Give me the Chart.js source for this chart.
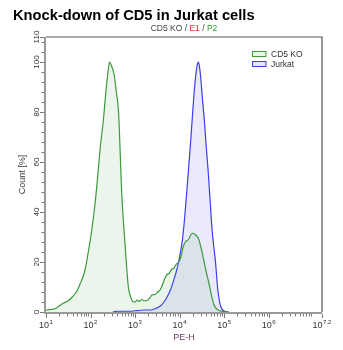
<!DOCTYPE html>
<html>
<head>
<meta charset="utf-8">
<script src="https://cdn.jsdelivr.net/npm/chart.js@4"></script>
<style>
  html, body { margin: 0; padding: 0; background: #fff; }
  canvas { display: block; }
</style>
</head>
<body>
<canvas id="grafico" width="343" height="350"></canvas>
<script>
const koLog = [1.0, 1.1, 1.2, 1.3, 1.4, 1.5, 1.6, 1.7, 1.77, 1.83, 1.88, 1.95, 2.03, 2.1, 2.155, 2.22, 2.29, 2.35, 2.4, 2.426, 2.47, 2.53, 2.58, 2.63, 2.67, 2.7, 2.74, 2.78, 2.82, 2.85, 2.9, 2.95, 3.0, 3.05, 3.1, 3.15, 3.2, 3.27, 3.33, 3.38, 3.45, 3.52, 3.57, 3.62, 3.67, 3.72, 3.77, 3.82, 3.87, 3.92, 3.98, 4.03, 4.08, 4.13, 4.2, 4.26, 4.3, 4.35, 4.42, 4.48, 4.54, 4.6, 4.66, 4.72, 4.77, 4.82, 4.88, 4.95, 5.0, 5.1];
const koCount = [0.8, 1.0, 1.3, 2.5, 3.6, 4.5, 6.2, 8.5, 11.5, 14, 17, 24, 33, 43, 53, 66, 77, 89, 97, 100, 98.5, 95, 88, 80, 62, 48, 36, 26, 16, 10, 6, 4.2, 4.0, 4.8, 4.2, 5.0, 4.5, 4.6, 5.6, 6.8, 7.0, 8.2, 9.0, 11, 13.5, 15, 15.5, 17, 17.5, 19, 20, 22, 26, 28, 29, 31, 31.5, 31, 29.5, 26, 21, 16, 11.5, 6.5, 3.0, 1.5, 0.7, 0.3, 0.1, 0];

const jurLog = [2.5, 2.6, 2.9, 3.0, 3.1, 3.2, 3.34, 3.45, 3.57, 3.65, 3.72, 3.8, 3.87, 3.94, 4.0, 4.05, 4.09, 4.13, 4.17, 4.21, 4.24, 4.28, 4.32, 4.36, 4.4, 4.42, 4.44, 4.48, 4.51, 4.56, 4.6, 4.64, 4.67, 4.7, 4.73, 4.77, 4.81, 4.86, 4.9, 4.93, 4.97, 5.03, 5.1];
const jurCount = [0, 0.3, 0.3, 0.5, 0.6, 0.8, 0.8, 1.3, 2.4, 4, 6, 9, 12.8, 17, 22, 27, 33, 41, 50, 59, 66, 76, 86, 94, 99, 100, 99, 93, 86, 76, 66, 57, 49, 41, 33, 26, 19.5, 8.8, 4, 2, 0.8, 0.2, 0];

const yTicks = [0, 20, 40, 60, 80, 100, 110];
const xTicks = [1, 2, 3, 4, 5, 6, 7.2];
const xExpoentes = ["1", "2", "3", "4", "5", "6", "7.2"];

const FONTE = "'Liberation Sans', Arial, sans-serif";

function pontos(xs, ys) {
  return xs.map((x, i) => ({ x: x, y: ys[i] }));
}

// desenha moldura, marcas, rótulos, legenda e títulos
const eixosPlugin = {
  id: "eixos",
  afterDraw(chart) {
    const ctx = chart.ctx;
    const area = chart.chartArea;
    const sx = chart.scales.x;
    const sy = chart.scales.y;
    ctx.save();

    // moldura
    ctx.strokeStyle = "#555";
    ctx.lineWidth = 1.2;
    ctx.beginPath();
    ctx.moveTo(area.left, area.top);
    ctx.lineTo(area.right, area.top);
    ctx.lineTo(area.right, area.bottom);
    ctx.stroke();

    ctx.strokeStyle = "#999";
    ctx.lineWidth = 2;
    ctx.beginPath();
    ctx.moveTo(area.left - 1, area.top);
    ctx.lineTo(area.left - 1, area.bottom + 1);
    ctx.lineTo(area.right, area.bottom + 1);
    ctx.stroke();

    // marcas do eixo y
    ctx.strokeStyle = "#777";
    ctx.lineWidth = 1;
    for (let v = 0; v <= 110; v += 4) {
      const y = Math.round(sy.getPixelForValue(v)) + 0.5;
      ctx.beginPath();
      ctx.moveTo(area.left - 2, y);
      ctx.lineTo(area.left - 4.5, y);
      ctx.stroke();
    }
    yTicks.forEach(v => {
      const y = Math.round(sy.getPixelForValue(v)) + 0.5;
      ctx.beginPath();
      ctx.moveTo(area.left - 2, y);
      ctx.lineTo(area.left - 6, y);
      ctx.stroke();
    });

    // marcas do eixo x (log)
    for (let d = 1; d < 8; d++) {
      for (let k = 2; k <= 9; k++) {
        const v = d + Math.log10(k);
        if (v > 7.2) break;
        const x = Math.round(sx.getPixelForValue(v)) + 0.5;
        ctx.beginPath();
        ctx.moveTo(x, area.bottom + 2);
        ctx.lineTo(x, area.bottom + 4.5);
        ctx.stroke();
      }
    }
    xTicks.forEach(v => {
      const x = Math.round(sx.getPixelForValue(v)) + 0.5;
      ctx.beginPath();
      ctx.moveTo(x, area.bottom + 2);
      ctx.lineTo(x, area.bottom + 6);
      ctx.stroke();
    });

    // rótulos do eixo y (girados)
    ctx.fillStyle = "#333";
    ctx.font = "8px " + FONTE;
    ctx.textAlign = "center";
    ctx.textBaseline = "alphabetic";
    yTicks.forEach(v => {
      ctx.save();
      ctx.translate(area.left - 7, sy.getPixelForValue(v));
      ctx.rotate(-Math.PI / 2);
      ctx.fillText(String(v), 0, 0);
      ctx.restore();
    });

    // rótulos do eixo x: 10 com expoente
    xTicks.forEach((v, i) => {
      const x = sx.getPixelForValue(v);
      ctx.font = "9px " + FONTE;
      const wBase = ctx.measureText("10").width;
      ctx.font = "6px " + FONTE;
      const wExp = ctx.measureText(xExpoentes[i]).width;
      const x0 = x - (wBase + wExp + 0.5) / 2;
      ctx.textAlign = "left";
      ctx.font = "9px " + FONTE;
      ctx.fillText("10", x0, area.bottom + 16);
      ctx.font = "6px " + FONTE;
      ctx.fillText(xExpoentes[i], x0 + wBase + 0.5, area.bottom + 12);
    });

    // títulos dos eixos
    ctx.textAlign = "center";
    ctx.font = "9px " + FONTE;
    ctx.fillStyle = "#6a3d62";
    ctx.fillText("PE-H", (area.left + area.right) / 2, area.bottom + 28);

    ctx.fillStyle = "#333";
    ctx.save();
    ctx.translate(25, (area.top + area.bottom) / 2);
    ctx.rotate(-Math.PI / 2);
    ctx.fillText("Count [%]", 0, 0);
    ctx.restore();

    // legenda
    const itens = [
      { nome: "CD5 KO", borda: "#3c9a3c", fundo: "#eaf5ea" },
      { nome: "Jurkat", borda: "#3c3cf0", fundo: "#e6e6fb" }
    ];
    ctx.textAlign = "left";
    ctx.font = "8.5px " + FONTE;
    itens.forEach((it, i) => {
      const yTop = area.top + 14 + i * 10;
      ctx.fillStyle = it.fundo;
      ctx.fillRect(252, yTop, 14, 5.5);
      ctx.strokeStyle = it.borda;
      ctx.lineWidth = 1;
      ctx.strokeRect(252.5, yTop + 0.5, 13.5, 5);
      ctx.fillStyle = "#333";
      ctx.fillText(it.nome, 271, yTop + 6);
    });

    // subtítulo colorido
    const partes = [["CD5 KO / ", "#444"], ["E1", "#e03030"], [" / ", "#444"], ["P2", "#30a030"]];
    ctx.font = "8.5px " + FONTE;
    const total = partes.reduce((s, p) => s + ctx.measureText(p[0]).width, 0);
    let px = (area.left + area.right) / 2 - total / 2;
    partes.forEach(p => {
      ctx.fillStyle = p[1];
      ctx.fillText(p[0], px, 31);
      px += ctx.measureText(p[0]).width;
    });

    // título principal
    ctx.fillStyle = "#000";
    ctx.font = "bold 14.7px " + FONTE;
    ctx.fillText("Knock-down of CD5 in Jurkat cells", 13, 20);

    ctx.restore();
  }
};

const ctx = document.getElementById("grafico").getContext("2d");
const chart = new Chart(ctx, {
  type: "line",
  data: {
    datasets: [
      {
        label: "CD5 KO",
        data: pontos(koLog, koCount),
        borderColor: "#3c9a3c",
        backgroundColor: "rgba(70, 160, 70, 0.11)",
        borderWidth: 1.2,
        fill: "origin",
        pointRadius: 0,
        cubicInterpolationMode: "monotone"
      },
      {
        label: "Jurkat",
        data: pontos(jurLog, jurCount),
        borderColor: "#3c3cf0",
        backgroundColor: "rgba(60, 60, 230, 0.11)",
        borderWidth: 1.2,
        fill: "origin",
        pointRadius: 0,
        cubicInterpolationMode: "monotone"
      }
    ]
  },
  options: {
    responsive: false,
    animation: false,
    devicePixelRatio: 1,
    layout: { padding: { left: 46, right: 21, top: 37, bottom: 38 } },
    plugins: {
      legend: { display: false },
      tooltip: { enabled: false }
    },
    scales: {
      x: { type: "linear", min: 1, max: 7.2, display: false },
      y: { type: "linear", min: 0, max: 110, display: false }
    }
  },
  plugins: [eixosPlugin]
});
</script>
</body>
</html>
